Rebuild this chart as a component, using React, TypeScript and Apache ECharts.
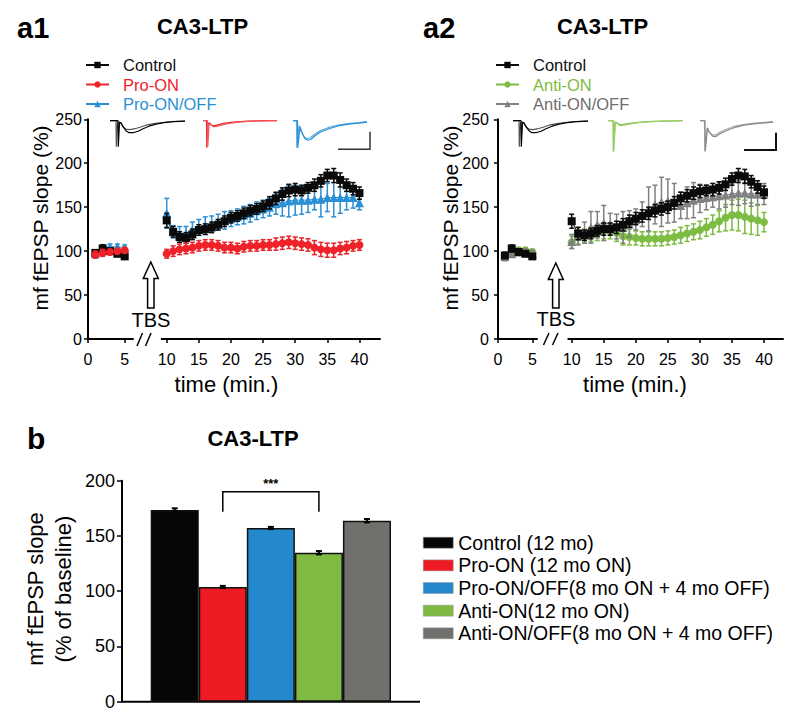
import React, { useEffect, useRef } from "react";
import * as echarts from "echarts";

const FONT = "'Liberation Sans', Arial, Helvetica, sans-serif";

// ---------- time points ----------
const BASE_T = [1, 2, 3, 4, 5];
const POST_T = [10, 11, 12, 13, 14, 15, 16, 17, 18, 19, 20, 21, 22, 23, 24, 25, 26, 27, 28, 29, 30, 31, 32, 33, 34, 35, 36, 37, 38, 39, 40];
const X_TICKS_LEFT = [0, 5];
const X_TICKS_RIGHT = [10, 15, 20, 25, 30, 35, 40];

// ---------- panel a1 ----------
const A1_CONTROL_BASE = [98, 103, 100, 97, 94];
const A1_CONTROL_BASE_ERR = [3, 4, 3, 3, 3];
const A1_CONTROL_POST = [135, 122, 116, 115, 119, 124, 125, 127, 130, 134, 138, 140, 143, 146, 148, 151, 155, 160, 165, 169, 170, 169, 172, 175, 180, 186, 186, 181, 175, 171, 166];
const A1_CONTROL_POST_ERR = [8, 6, 6, 6, 6, 6, 6, 6, 6, 6, 6, 6, 6, 6, 6, 6, 7, 7, 7, 7, 7, 6, 6, 7, 7, 7, 8, 8, 7, 7, 7];

const A1_PROON_BASE = [96, 98, 99, 100, 101];
const A1_PROON_BASE_ERR = [4, 4, 3, 3, 3];
const A1_PROON_POST = [97, 100, 102, 103, 104, 106, 107, 107, 106, 104, 104, 103, 105, 106, 106, 107, 107, 108, 109, 110, 109, 108, 107, 104, 102, 101, 101, 103, 104, 106, 107];
const A1_PROON_POST_ERR = [5, 6, 6, 6, 6, 6, 6, 6, 6, 6, 6, 6, 6, 6, 6, 6, 6, 7, 7, 7, 7, 7, 7, 8, 8, 8, 8, 7, 7, 6, 6];

const A1_PROOFF_BASE = [97, 104, 105, 105, 104];
const A1_PROOFF_BASE_ERR = [4, 3, 3, 3, 3];
const A1_PROOFF_POST = [143, 122, 120, 120, 124, 127, 129, 131, 133, 135, 137, 139, 141, 143, 146, 148, 150, 154, 155, 157, 158, 158, 158, 159, 159, 161, 161, 161, 161, 161, 155];
const A1_PROOFF_POST_ERR = [17, 7, 8, 8, 9, 9, 10, 9, 9, 10, 9, 9, 10, 10, 10, 10, 10, 12, 15, 18, 17, 16, 14, 12, 20, 16, 22, 18, 14, 12, 8];

// ---------- panel a2 ----------
const A2_CONTROL_BASE = [95, 103, 99, 97, 94];
const A2_CONTROL_BASE_ERR = [3, 4, 3, 3, 3];
const A2_CONTROL_POST = [134, 120, 118, 120, 123, 125, 125, 127, 130, 134, 137, 140, 143, 146, 148, 150, 155, 160, 163, 166, 168, 169, 170, 172, 176, 182, 186, 185, 179, 173, 167];
const A2_CONTROL_POST_ERR = [8, 7, 6, 6, 6, 7, 7, 7, 7, 7, 7, 7, 7, 7, 7, 7, 7, 7, 7, 7, 7, 6, 7, 7, 7, 7, 8, 8, 7, 7, 7];

const A2_ANTION_BASE = [95, 98, 101, 101, 99];
const A2_ANTION_BASE_ERR = [4, 4, 3, 3, 3];
const A2_ANTION_POST = [110, 116, 117, 119, 121, 123, 123, 121, 117, 116, 115, 114, 114, 114, 114, 115, 116, 118, 120, 122, 124, 127, 130, 134, 138, 141, 141, 139, 137, 135, 133];
const A2_ANTION_POST_ERR = [7, 8, 8, 8, 9, 9, 9, 10, 10, 9, 8, 8, 8, 8, 8, 8, 8, 9, 9, 9, 10, 10, 11, 12, 15, 17, 18, 19, 18, 17, 11];

const A2_ANTIOFF_BASE = [94, 97, 99, 99, 97];
const A2_ANTIOFF_BASE_ERR = [5, 4, 4, 4, 4];
const A2_ANTIOFF_POST = [111, 117, 121, 127, 130, 132, 131, 128, 127, 131, 136, 142, 148, 153, 156, 157, 155, 152, 155, 158, 160, 161, 162, 163, 164, 165, 166, 166, 165, 165, 165];
const A2_ANTIOFF_POST_ERR = [8, 10, 12, 18, 15, 20, 12, 14, 18, 15, 12, 14, 25, 22, 28, 25, 22, 15, 18, 20, 16, 14, 12, 15, 14, 12, 14, 12, 14, 12, 12];

// ---------- example traces (inset, arbitrary units) ----------
const TRACE_CTRL_PRE = [[0, 0], [6, 0], [6.3, -26], [6.8, -26], [7.5, -2], [9, -1], [11, -3], [13, -6], [16, -8.5], [20, -9], [25, -8], [30, -6.5], [36, -4.5], [44, -3], [52, -1.8], [62, -0.8], [75, -0.3]];
const TRACE_CTRL_POST = [[0, 0], [8, 0], [8.3, -26], [8.8, -26], [9.5, -2], [11, -2], [13, -6], [16, -10], [19, -12], [23, -12], [28, -10.5], [33, -8], [39, -5.5], [46, -3.5], [54, -2], [64, -1], [75, -0.5]];
const TRACE_PROON_PRE = [[0, 0], [3.5, 0], [3.8, -27], [4.3, -27], [5, -4], [6, -2], [7, -3], [9, -5], [12, -5], [16, -4], [22, -2.5], [30, -1.5], [45, -0.5], [60, 0], [74, 0]];
const TRACE_PROON_POST = [[0, 0], [4.5, 0], [4.8, -26], [5.3, -26], [6, -5], [7, -2.5], [8, -4], [10, -6], [13, -6], [18, -4.5], [25, -3], [35, -1.5], [50, -0.5], [74, 0]];
const TRACE_PROOFF_PRE = [[0, 0], [3.5, 0], [3.8, -27], [4.3, -27], [6, -5], [8, -10], [11, -16], [14, -18], [17, -17], [21, -14], [27, -10], [35, -7], [45, -4.5], [55, -3], [65, -2], [74, -1]];
const TRACE_PROOFF_POST = [[0, 0], [4.5, 0], [4.8, -27], [5.3, -27], [7, -6], [9, -12], [12, -18], [15, -19.5], [18, -18.5], [22, -15], [28, -11], [36, -8], [46, -5], [56, -3.5], [66, -2.5], [74, -1.5]];
const TRACE_ANTION_PRE = [[0, 0], [5, 0], [5.3, -31], [5.8, -31], [7, -1], [9, -2], [12, -4], [15, -4], [20, -3], [28, -2], [40, -1], [55, -0.5], [75, 0]];
const TRACE_ANTION_POST = [[0, 0], [5.5, 0], [5.8, -30], [6.3, -30], [7.5, -1.5], [9.5, -3], [12.5, -5], [16, -4.5], [21, -3.5], [30, -2], [42, -1], [58, -0.5], [75, 0]];
const TRACE_ANTIOFF_PRE = [[0, 0], [4.5, 0], [4.8, -31], [5.3, -31], [7, -8], [9, -11], [12, -14], [15, -14.5], [19, -12], [25, -9], [33, -6], [43, -4], [55, -2.5], [73, -1]];
const TRACE_ANTIOFF_POST = [[0, 0], [5, 0], [5.3, -30], [5.8, -30], [7.5, -7], [9.5, -12], [12.5, -15.5], [15.5, -16], [20, -13], [26, -10], [34, -7], [44, -4.5], [56, -3], [73, -1.5]];

// ---------- panel b ----------
const BAR_NAMES = ["Control (12 mo)", "Pro-ON (12 mo ON)", "Pro-ON/OFF(8 mo ON + 4 mo OFF)", "Anti-ON(12 mo ON)", "Anti-ON/OFF(8 mo ON + 4 mo OFF)"];
const BAR_VALUES = [173.5, 103.8, 157.2, 134.8, 163.8];
const BAR_ERR = [1.5, 1, 1, 1.5, 1.5];
const BAR_COLORS = ["#060606", "#ed1c24", "#2488cc", "#7fba42", "#72706d"];
const SIG_BRACKET = [[1, 3, 190, 172]];

const C_BLACK = "#0a0a0a";
const C_RED = "#ee2228";
const C_BLUE = "#2b8fd4";
const C_GREEN = "#7cbc42";
const C_GRAY = "#808080";

function lineS(name: string, color: string, symbol: string, size: number, axis: number, ts: number[], vs: number[], z: number) {
  return {
    type: "line", name, xAxisIndex: axis, yAxisIndex: axis,
    data: ts.map((t, i) => [t, vs[i]]),
    symbol, symbolSize: size, showSymbol: true,
    lineStyle: { color, width: 1 }, itemStyle: { color },
    z, silent: true,
  };
}

function errS(name: string, color: string, axis: number, ts: number[], vs: number[], es: number[], z: number) {
  return {
    type: "custom", name: name + " SEM", xAxisIndex: axis, yAxisIndex: axis,
    data: ts.map((t, i) => [t, vs[i], es[i]]),
    encode: { x: 0, y: 1 },
    z, silent: true,
    renderItem: (_p: any, api: any) => {
      const x = api.value(0), y = api.value(1), e = api.value(2);
      const a = api.coord([x, y + e]);
      const b = api.coord([x, y - e]);
      const w = 2.5;
      const st = { stroke: color, lineWidth: 1.5 };
      return {
        type: "group", children: [
          { type: "line", shape: { x1: a[0], y1: a[1], x2: b[0], y2: b[1] }, style: st },
          { type: "line", shape: { x1: a[0] - w, y1: a[1], x2: a[0] + w, y2: a[1] }, style: st },
          { type: "line", shape: { x1: b[0] - w, y1: b[1], x2: b[0] + w, y2: b[1] }, style: st },
        ],
      };
    },
  };
}

function traceS(name: string, color: string, axis: number, pts: number[][]) {
  return {
    type: "line", name, xAxisIndex: axis, yAxisIndex: axis, data: pts,
    symbol: "none", lineStyle: { color, width: 1.2 }, silent: true, z: 3,
  };
}

const axisLineStyle = { color: "#000", width: 2 };
const tickStyle = { color: "#000", width: 1.5 };

function mainY(grid: number, show: boolean, margin: number) {
  return {
    type: "value", gridIndex: grid, min: 0, max: 250, interval: 50, show,
    axisLine: { show: true, lineStyle: axisLineStyle },
    axisTick: { show: true, length: 4, lineStyle: tickStyle },
    axisLabel: { fontSize: 16, color: "#000", fontFamily: FONT, margin },
    splitLine: { show: false },
  };
}
function mainX(grid: number, min: number, max: number, ticks: number[]) {
  return {
    type: "value", gridIndex: grid, min, max,
    axisLine: { show: true, onZero: false, lineStyle: axisLineStyle },
    axisTick: { show: true, length: 4, customValues: ticks, lineStyle: tickStyle },
    axisLabel: { customValues: ticks, fontSize: 16, color: "#000", fontFamily: FONT, margin: 12 },
    splitLine: { show: false },
  };
}

const TRACE_GRIDS = [
  { left: 110, width: 75 },
  { left: 203, width: 74 },
  { left: 293, width: 74 },
  { left: 513, width: 77 },
  { left: 608, width: 75 },
  { left: 700, width: 73 },
];

function txt(text: string, x: number, y: number, size: number, opts: any = {}) {
  return {
    type: "text", x, y, rotation: opts.rotation || 0, silent: true,
    style: {
      text, fill: opts.color || "#000",
      font: `${opts.bold ? "bold" : "normal"} ${size}px ${FONT}`,
      textAlign: opts.align || "center", textVerticalAlign: "middle",
    },
  };
}
function seg(x1: number, y1: number, x2: number, y2: number, w = 1.5, color = "#000") {
  return { type: "line", silent: true, shape: { x1, y1, x2, y2 }, style: { stroke: color, lineWidth: w } };
}
function arrow(cx: number, top: number, bottom: number) {
  return {
    type: "polygon", silent: true,
    shape: {
      points: [[cx, top], [cx + 7.5, top + 16.5], [cx + 3.2, top + 16.5], [cx + 3.2, bottom], [cx - 3.2, bottom], [cx - 3.2, top + 16.5], [cx - 7.5, top + 16.5]],
    },
    style: { fill: "#fff", stroke: "#000", lineWidth: 1.5 },
  };
}

function buildOption() {
  const grids: any[] = [
    { left: 88, top: 119.3, width: 45, height: 219.7 },
    { left: 161.7, top: 119.3, width: 218.3, height: 219.7 },
    { left: 498, top: 119.3, width: 39, height: 219.7 },
    { left: 568.3, top: 119.3, width: 214.7, height: 219.7 },
    ...TRACE_GRIDS.map((g) => ({ left: g.left, width: g.width, top: 118.7, height: 34 })),
    { left: 150.7, top: 480.7, width: 240.3, height: 221 },
  ].map((g) => ({ ...g, containLabel: false, outerBoundsMode: "none" }));

  const xAxes: any[] = [
    mainX(0, 0, 6.13, X_TICKS_LEFT),
    mainX(1, 9.22, 43.2, X_TICKS_RIGHT),
    mainX(2, 0, 5.68, X_TICKS_LEFT),
    mainX(3, 9.47, 42.96, X_TICKS_RIGHT),
    ...TRACE_GRIDS.map((g, i) => ({ type: "value", gridIndex: 4 + i, min: 0, max: g.width, show: false })),
    { type: "category", gridIndex: 10, data: BAR_NAMES, show: false },
  ];
  const yAxes: any[] = [
    mainY(0, true, 6),
    mainY(1, false, 6),
    mainY(2, true, 9),
    mainY(3, false, 9),
    ...TRACE_GRIDS.map((_g, i) => ({ type: "value", gridIndex: 4 + i, min: -32, max: 2, show: false })),
    {
      type: "value", gridIndex: 10, min: 0, max: 200, interval: 50, offset: 28.7,
      axisLine: { show: true, lineStyle: axisLineStyle },
      axisTick: { show: true, length: 5, lineStyle: tickStyle },
      axisLabel: { fontSize: 18, color: "#000", fontFamily: FONT, margin: 7 },
      splitLine: { show: false },
    },
  ];

  const series: any[] = [];
  const addGroup = (name: string, color: string, sym: string, size: number, axL: number, axR: number, b: number[], be: number[], p: number[], pe: number[], zBase: number) => {
    series.push(errS(name, color, axL, BASE_T, b, be, zBase));
    series.push(lineS(name, color, sym, size, axL, BASE_T, b, zBase + 1));
    series.push(errS(name, color, axR, POST_T, p, pe, zBase));
    series.push(lineS(name, color, sym, size, axR, POST_T, p, zBase + 1));
  };
  // a1
  addGroup("Pro-ON/OFF", C_BLUE, "triangle", 9, 0, 1, A1_PROOFF_BASE, A1_PROOFF_BASE_ERR, A1_PROOFF_POST, A1_PROOFF_POST_ERR, 2);
  addGroup("Control", C_BLACK, "rect", 8, 0, 1, A1_CONTROL_BASE, A1_CONTROL_BASE_ERR, A1_CONTROL_POST, A1_CONTROL_POST_ERR, 4);
  addGroup("Pro-ON", C_RED, "circle", 8, 0, 1, A1_PROON_BASE, A1_PROON_BASE_ERR, A1_PROON_POST, A1_PROON_POST_ERR, 6);
  // a2
  addGroup("Anti-ON", C_GREEN, "circle", 8, 2, 3, A2_ANTION_BASE, A2_ANTION_BASE_ERR, A2_ANTION_POST, A2_ANTION_POST_ERR, 2);
  addGroup("Anti-ON/OFF", C_GRAY, "triangle", 9, 2, 3, A2_ANTIOFF_BASE, A2_ANTIOFF_BASE_ERR, A2_ANTIOFF_POST, A2_ANTIOFF_POST_ERR, 4);
  addGroup("Control", C_BLACK, "rect", 8, 2, 3, A2_CONTROL_BASE, A2_CONTROL_BASE_ERR, A2_CONTROL_POST, A2_CONTROL_POST_ERR, 6);

  // traces
  series.push(traceS("tr-c1a", "#555", 4, TRACE_CTRL_PRE));
  series.push(traceS("tr-c1b", "#000", 4, TRACE_CTRL_POST));
  series.push(traceS("tr-p1a", C_RED, 5, TRACE_PROON_PRE));
  series.push(traceS("tr-p1b", "#f05a5e", 5, TRACE_PROON_POST));
  series.push(traceS("tr-p2a", "#5aaee0", 6, TRACE_PROOFF_PRE));
  series.push(traceS("tr-p2b", C_BLUE, 6, TRACE_PROOFF_POST));
  series.push(traceS("tr-c2a", "#555", 7, TRACE_CTRL_PRE));
  series.push(traceS("tr-c2b", "#000", 7, TRACE_CTRL_POST));
  series.push(traceS("tr-g1a", C_GREEN, 8, TRACE_ANTION_PRE));
  series.push(traceS("tr-g1b", "#9ccf6c", 8, TRACE_ANTION_POST));
  series.push(traceS("tr-g2a", "#aaaaaa", 9, TRACE_ANTIOFF_PRE));
  series.push(traceS("tr-g2b", "#888888", 9, TRACE_ANTIOFF_POST));

  // bars
  BAR_NAMES.forEach((n, i) => {
    series.push({
      type: "bar", name: n, xAxisIndex: 10, yAxisIndex: 10,
      data: BAR_VALUES.map((v, j) => (j === i ? v : "-")),
      barGap: "-100%", barCategoryGap: "0%",
      itemStyle: { color: BAR_COLORS[i], borderColor: "#111", borderWidth: 1.5 },
      silent: true, z: 2,
    });
  });
  series.push({
    type: "custom", name: "bar-err", xAxisIndex: 10, yAxisIndex: 10,
    data: BAR_VALUES.map((v, i) => [i, v, BAR_ERR[i]]),
    encode: { x: 0, y: 1 }, z: 5, silent: true,
    renderItem: (_p: any, api: any) => {
      const x = api.value(0), y = api.value(1), e = api.value(2);
      const a = api.coord([x, y + e]);
      const b = api.coord([x, y - e]);
      const st = { stroke: "#000", lineWidth: 2 };
      return {
        type: "group", children: [
          { type: "line", shape: { x1: a[0], y1: a[1], x2: b[0], y2: b[1] }, style: st },
          { type: "line", shape: { x1: a[0] - 3, y1: a[1], x2: a[0] + 3, y2: a[1] }, style: st },
          { type: "line", shape: { x1: b[0] - 3, y1: b[1], x2: b[0] + 3, y2: b[1] }, style: st },
        ],
      };
    },
  });
  series.push({
    type: "custom", name: "sig", xAxisIndex: 10, yAxisIndex: 10,
    data: SIG_BRACKET, encode: { x: 0, y: 2 }, z: 5, silent: true,
    renderItem: (_p: any, api: any) => {
      const l = api.coord([api.value(0), api.value(2)]);
      const r = api.coord([api.value(1), api.value(2)]);
      const lb = api.coord([api.value(0), api.value(3)]);
      const rb = api.coord([api.value(1), api.value(3)]);
      return {
        type: "group", children: [
          { type: "polyline", shape: { points: [lb, l, r, rb] }, style: { stroke: "#000", lineWidth: 1.5, fill: null } },
          { type: "text", x: (l[0] + r[0]) / 2, y: l[1] - 8, style: { text: "***", fill: "#000", font: `bold 13px ${FONT}`, textAlign: "center", textVerticalAlign: "middle" } },
        ],
      };
    },
  });

  const legendCommon = {
    orient: "vertical", itemWidth: 23, itemHeight: 8, itemGap: 2.5, padding: 0, selectedMode: false,
    lineStyle: { width: 2 },
    textStyle: { fontSize: 16.5, fontFamily: FONT, padding: [0, 0, 0, 9] },
  };

  const graphic: any[] = [
    txt("a1", 17, 28, 29, { bold: true, align: "left" }),
    txt("CA3-LTP", 202.5, 26, 22, { bold: true }),
    txt("a2", 423, 28, 29, { bold: true, align: "left" }),
    txt("CA3-LTP", 602.5, 26, 22, { bold: true }),
    txt("b", 27, 438, 30, { bold: true, align: "left" }),
    txt("CA3-LTP", 253, 438, 22, { bold: true }),
    txt("mf fEPSP slope (%)", 40, 218, 21, { rotation: Math.PI / 2 }),
    txt("mf fEPSP slope (%)", 450, 218, 21, { rotation: Math.PI / 2 }),
    txt("time (min.)", 226.5, 384, 22),
    txt("time (min.)", 635, 384, 22),
    txt("TBS", 151, 320, 20),
    txt("TBS", 556, 319, 20),
    arrow(150.8, 262, 308),
    arrow(555.8, 263, 308),
    seg(137, 346, 142.5, 333), seg(145.5, 346, 151, 333),
    seg(543.5, 345, 549, 333), seg(552.5, 345, 558, 333),
    { type: "polyline", silent: true, shape: { points: [[338, 149.3], [370, 149.3], [370, 131.7]] }, style: { stroke: "#333", lineWidth: 1.5, fill: null } },
    { type: "polyline", silent: true, shape: { points: [[744, 150], [776, 150], [776, 132.7]] }, style: { stroke: "#111", lineWidth: 2, fill: null } },
    txt("mf fEPSP slope", 35, 589, 22, { rotation: Math.PI / 2 }),
    txt("(% of baseline)", 63, 589, 22, { rotation: Math.PI / 2 }),
    seg(122, 701.7, 420, 701.7, 2),
  ];

  return {
    animation: false,
    backgroundColor: "#fff",
    textStyle: { fontFamily: FONT },
    grid: grids,
    xAxis: xAxes,
    yAxis: yAxes,
    legend: [
      {
        ...legendCommon, left: 85, top: 56.5,
        data: [
          { name: "Control", textStyle: { color: "#111" } },
          { name: "Pro-ON", textStyle: { color: C_RED } },
          { name: "Pro-ON/OFF", textStyle: { color: C_BLUE } },
        ],
      },
      {
        ...legendCommon, left: 495, top: 56.5,
        data: [
          { name: "Control", textStyle: { color: "#111" } },
          { name: "Anti-ON", textStyle: { color: C_GREEN } },
          { name: "Anti-ON/OFF", textStyle: { color: "#6e6e6e" } },
        ],
      },
      {
        orient: "vertical", left: 423, top: 531.4, itemWidth: 30, itemHeight: 11, itemGap: 0, padding: 0,
        selectedMode: false, icon: "rect",
        itemStyle: { borderColor: "#999", borderWidth: 0.5 },
        textStyle: { fontSize: 19.5, lineHeight: 22.65, fontFamily: FONT, color: "#000" },
        data: BAR_NAMES,
      },
    ],
    graphic,
    series,
  };
}

export default function App() {
  const ref = useRef<HTMLDivElement>(null);
  useEffect(() => {
    document.body.style.margin = "0";
    const chart = echarts.init(ref.current!, null, { renderer: "svg" });
    chart.setOption(buildOption() as any);
    return () => chart.dispose();
  }, []);
  return <div ref={ref} style={{ width: 800, height: 715, background: "#fff" }} />;
}
